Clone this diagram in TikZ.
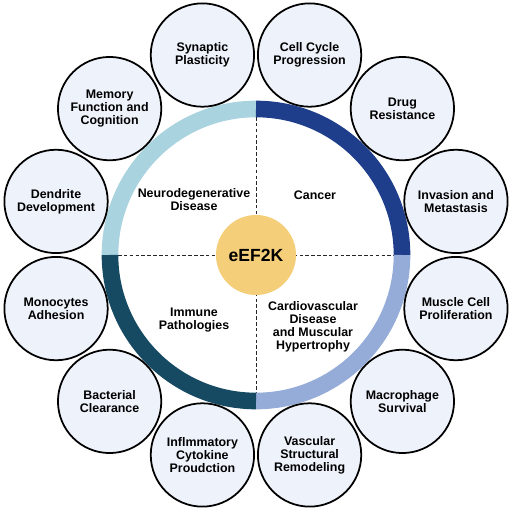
\documentclass[tikz,border=0pt]{standalone}
\usepackage{fontspec}
\setsansfont{Liberation Sans}
\usepackage{tikz}
\usetikzlibrary{positioning}
\definecolor{neuroring}{HTML}{A9D3DE}
\definecolor{cancerring}{HTML}{1E3D8A}
\definecolor{cardioring}{HTML}{96ACD8}
\definecolor{immuneringc}{HTML}{164A63}
\definecolor{bubblefill}{HTML}{EEF3FB}
\definecolor{kinasefill}{HTML}{F4CE79}

\begin{document}
\begin{tikzpicture}[x=0.03cm, y=0.03cm,
  every node/.style={font=\sffamily\bfseries\fontsize{10.6}{11}\selectfont, align=center},
  bubble/.style={circle, draw=black, line width=1.5pt, fill=bubblefill, minimum size=3.1cm, inner sep=0pt},
  ringarc/.style={line width=14.2pt},
  divider/.style={densely dashed, line width=0.8pt, black!85}]
\useasboundingbox (-256,-258) rectangle (256,255);
% dividers between the four disease groups
\coordinate (dl) at (-138,0);
\coordinate (dr) at (138,0);
\coordinate (dt) at (0,138);
\coordinate (db) at (0,-138);
\draw[divider] (dl) -- (dr);
\draw[divider] (dt) -- (db);
% ring, one arc per group
\draw[ringarc, neuroring] (180:146) arc (180:90:146);
\draw[ringarc, cancerring] (90:146) arc (90:0:146);
\draw[ringarc, cardioring] (0:146) arc (0:-90:146);
\draw[ringarc, immuneringc] (-90:146) arc (-90:-180:146);
% centre
\node[circle, fill=kinasefill, minimum size=2.4cm, font=\sffamily\bfseries\fontsize{15}{17}\selectfont] (kinase) at (0,0) {eEF2K};
% group labels
\node (neuro) at (-62,55) {Neurodegenerative\\Disease};
\node (cancer) at (59,60) {Cancer};
\node (immune) at (-62,-65) {Immune\\Pathologies};
\node (cardio) at (57,-72) {Cardiovascular\\Disease\\and Muscular\\Hypertrophy};
% outer bubbles
\foreach \ang/\name/\lab in {105/synaptic/{Synaptic\\Plasticity}, 75/cellcycle/{Cell Cycle\\Progression},
    45/drug/{Drug\\Resistance}, 15/invasion/{Invasion and\\Metastasis},
    -15/muscle/{Muscle Cell\\Proliferation}, -45/macrophage/{Macrophage\\Survival},
    -75/vascular/{Vascular\\Structural\\Remodeling}, -105/cytokine/{Inflmmatory\\Cytokine\\Proudction},
    -135/bacterial/{Bacterial\\Clearance}, -165/monocyte/{Monocytes\\Adhesion},
    165/dendrite/{Dendrite\\Development}, 135/memory/{Memory\\Function and\\Cognition}}
  \node[bubble] (\name) at (\ang:207) {\lab};
\end{tikzpicture}
\end{document}
